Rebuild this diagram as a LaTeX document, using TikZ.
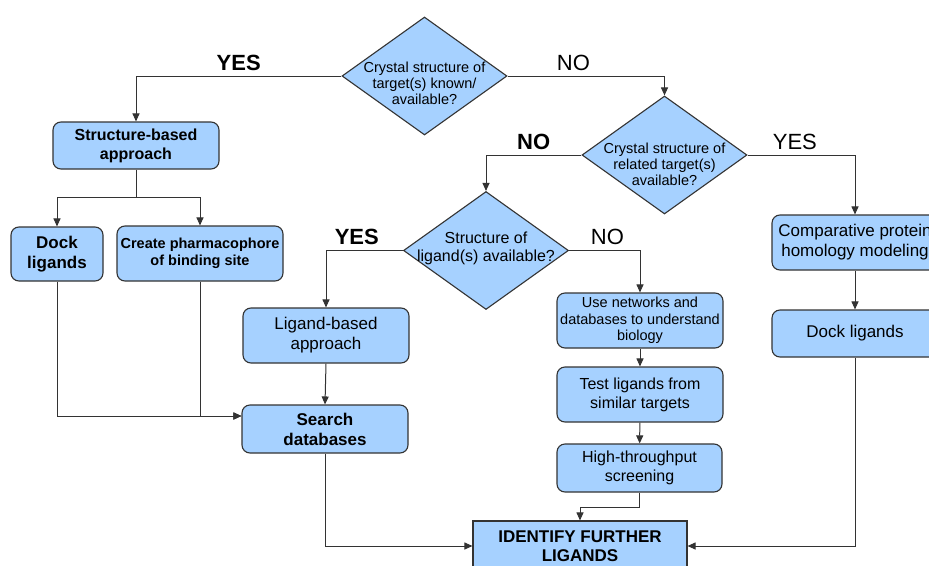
\documentclass[tikz,border=0pt]{standalone}
\usepackage{fontspec}
\setmainfont{Liberation Sans}
\usepackage{tikz}
\usetikzlibrary{shapes.geometric, arrows.meta}
\definecolor{boxfill}{RGB}{166,209,255}
\definecolor{linec}{RGB}{51,51,51}

\begin{document}
\begin{tikzpicture}[
        x=1pt, y=-1pt,
        decision/.style={diamond, draw=linec, fill=boxfill, line width=1.1pt, minimum width=165pt, minimum height=118pt, inner sep=0pt},
        qtext/.style={align=center, font=\fontsize{14.5}{16}\selectfont},
        process/.style={draw=linec, fill=boxfill, line width=1.1pt, rounded corners=8pt, align=center, inner sep=0pt, minimum width=166pt, minimum height=55pt},
        link/.style={draw=linec, line width=1pt},
        arr/.style={link, -{Triangle[length=8pt,width=7pt]}},
        answer/.style={above, inner sep=5pt, font=\fontsize{22}{26}\selectfont},
        answerb/.style={answer, font=\fontsize{22}{26}\selectfont\bfseries}
    ]
        \useasboundingbox (0,0) rectangle (929,565);

        % Decisions
        \node[decision, label={[qtext, yshift=-7pt]center:Crystal structure of\\target(s) known/\\available?}] (q1) at (424.5,76) {};
        \node[decision, label={[qtext, yshift=-9pt]center:Crystal structure of\\related target(s)\\available?}] (q2) at (664.5,155) {};
        \node[decision, label={[qtext, font=\fontsize{16}{18}\selectfont, yshift=2pt]center:Structure of\\ligand(s) available?}] (q3) at (486,250.5) {};

        % Left branch (structure-based)
        \node[process, minimum height=47pt, font=\fontsize{16}{19}\selectfont\bfseries] (sba) at (136,145.5) {Structure-based\\approach};
        \node[process, minimum width=92pt, minimum height=54pt, font=\fontsize{17}{20}\selectfont\bfseries] (dockl) at (57,254) {Dock\\ligands};
        \node[process, font=\fontsize{14.5}{17}\selectfont\bfseries] (pharm) at (200,253.5) {Create pharmacophore\\of binding site};

        % Middle branch (ligand-based)
        \node[process, font=\fontsize{17}{20}\selectfont] (lba) at (326,335.5) {Ligand-based\\approach};
        \node[process, minimum height=48pt, font=\fontsize{17}{20}\selectfont\bfseries] (search) at (325,429) {Search\\databases};

        % No structure, no ligand
        \node[process, font=\fontsize{14.5}{16.5}\selectfont] (netw) at (640,320.5) {Use networks and\\databases to understand\\biology};
        \node[process, font=\fontsize{16}{19}\selectfont] (test) at (640,394.5) {Test ligands from\\similar targets};
        \node[process, minimum width=165pt, minimum height=48pt, font=\fontsize{16}{19}\selectfont] (hts) at (639.5,468) {High-throughput\\screening};

        % Homology branch
        \node[process, font=\fontsize{17}{20}\selectfont] (cpm) at (855,242.5) {Comparative protein\\homology modeling};
        \node[process, minimum height=47pt, font=\fontsize{17}{20}\selectfont] (dockr) at (855,333.5) {Dock ligands};

        % Final box
        \node[process, sharp corners, minimum width=214pt, minimum height=50pt, font=\fontsize{17}{19}\selectfont\bfseries] (ident) at (580,546) {IDENTIFY FURTHER\\LIGANDS};

        % Connectors with answers
        \draw[arr] (q1.west) -| node[answerb, pos=0.25] {YES} (sba.north);
        \draw[arr] (q1.east) -| node[answer, pos=0.21] {NO} (q2.north);
        \draw[arr] (q2.west) -| node[answerb, pos=0.25] {NO} (q3.north);
        \draw[arr] (q2.east) -| node[answer, pos=0.22] {YES} (cpm.north);
        \draw[arr] (q3.west) -| node[answerb, pos=0.3] {YES} (lba.north);
        \draw[arr] (q3.east) -| node[answer, pos=0.27] {NO} (netw.north);

        % Other connectors
        \coordinate (sbsplit) at (136,197);
        \draw[link] (sba.south) -- (sbsplit);
        \draw[arr] (sbsplit) -| (dockl.north);
        \draw[arr] (sbsplit) -| (pharm.north);
        \draw[arr] (dockl.south) |- ([yshift=13pt]search.west);
        \draw[arr] (pharm.south) |- ([yshift=13pt]search.west);
        \draw[arr] (lba.south) -- (search.north);
        \draw[arr] (cpm) -- (dockr);
        \draw[arr] (netw) -- (test);
        \draw[arr] (test) -- (hts);
        \draw[arr] (hts.south) -- ++(0,15) -| (ident.north);
        \draw[arr] (search.south) |- (ident.west);
        \draw[arr] (dockr.south) |- (ident.east);
    \end{tikzpicture}
\end{document}
